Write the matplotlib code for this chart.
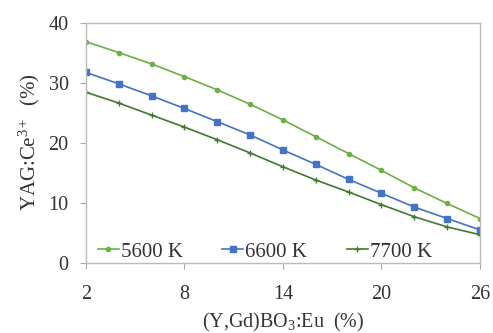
import matplotlib
matplotlib.use("Agg")
import matplotlib.pyplot as plt

x = [2, 4, 6, 8, 10, 12, 14, 16, 18, 20, 22, 24, 26]
s5600 = [36.8, 35.0, 33.1, 31.0, 28.8, 26.4, 23.8, 21.0, 18.2, 15.4, 12.5, 9.9, 7.4]
s6600 = [31.7, 29.8, 27.8, 25.7, 23.5, 21.3, 18.8, 16.4, 13.9, 11.6, 9.3, 7.4, 5.5]
s7700 = [28.4, 26.6, 24.6, 22.6, 20.5, 18.3, 16.0, 13.8, 11.8, 9.7, 7.7, 6.0, 4.7]
labels = ["5600 K", "6600 K", "7700 K"]
xticks = [2, 8, 14, 20, 26]
yticks = [0, 10, 20, 30, 40]

plt.rcParams['font.family'] = ['Liberation Serif', 'DejaVu Serif']
plt.rcParams['mathtext.fontset'] = 'custom'
plt.rcParams['mathtext.rm'] = 'Liberation Serif'
plt.rcParams['mathtext.it'] = 'Liberation Serif:italic'

fig = plt.figure(figsize=(4.93, 3.33), dpi=100)
ax = fig.add_axes([0.1744, 0.2102, 0.7992, 0.7222])

ax.plot(x, s5600, color='#6cb043', marker='o', markersize=3, lw=1.2, label=labels[0])
ax.plot(x, s6600, color='#4472c4', marker='s', markersize=5, lw=1.2, label=labels[1])
ax.plot(x, s7700, color='#3f7a30', marker='+', markersize=4, mew=1, lw=1.2, label=labels[2])

ax.set_xlim(2, 26)
ax.set_ylim(0, 40)
ax.set_xticks(xticks)
ax.set_yticks(yticks)
ax.tick_params(labelsize=14.5, colors='#333333', length=4.5, color='#aaaaaa')
ax.tick_params(axis='x', pad=11)
ax.tick_params(axis='y', pad=8)
for sp in ax.spines.values():
    sp.set_color('#bbbbbb')
    sp.set_linewidth(1.0)

ax.set_xlabel(r"(Y,Gd)BO$_3$:Eu  (%)", fontsize=14.5, color='#333333', labelpad=5)
ax.set_ylabel(r"YAG:Ce$^{3+}$  (%)", fontsize=15, color='#333333', labelpad=5)

leg = ax.legend(loc='center left', ncol=3, frameon=False, fontsize=15,
                bbox_to_anchor=(0.030, 0.046), borderpad=0, borderaxespad=0,
                handlelength=1.0, columnspacing=1.9,
                handletextpad=0.1, labelcolor='#333333')

fig.savefig("out.png", dpi=100)
